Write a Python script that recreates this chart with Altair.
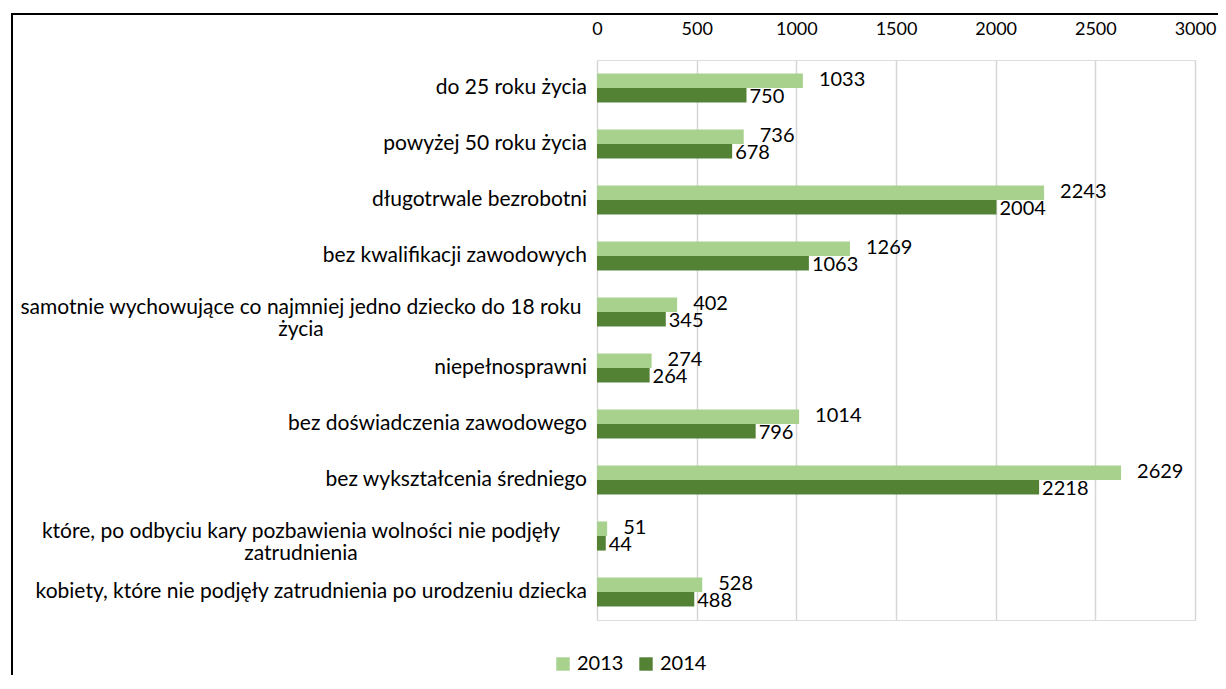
import altair as alt
import pandas as pd

categories = [
    "do 25 roku życia",
    "powyżej 50 roku życia",
    "długotrwale bezrobotni",
    "bez kwalifikacji zawodowych",
    "samotnie wychowujące co najmniej jedno dziecko do 18 roku|życia",
    "niepełnosprawni",
    "bez doświadczenia zawodowego",
    "bez wykształcenia średniego",
    "które, po odbyciu kary pozbawienia wolności nie podjęły|zatrudnienia",
    "kobiety, które nie podjęły zatrudnienia po urodzeniu dziecka",
]
values_2013 = [1033, 736, 2243, 1269, 402, 274, 1014, 2629, 51, 528]
values_2014 = [750, 678, 2004, 1063, 345, 264, 796, 2218, 44, 488]
years = ["2013", "2014"]
x_ticks = [0, 500, 1000, 1500, 2000, 2500, 3000]

rows = []
for c, a, b in zip(categories, values_2013, values_2014):
    rows.append({"cat": c, "year": "2013", "value": a})
    rows.append({"cat": c, "year": "2014", "value": b})
df = pd.DataFrame(rows)

cat_df = pd.DataFrame({"cat": categories,
                       "multi": ["|" in c for c in categories]})

FONT = "Lato"
W, H = 598, 560

yscale = alt.Scale(domain=categories, paddingInner=0.48, paddingOuter=0.24)
color = alt.Color("year:N", scale=alt.Scale(domain=years, range=["#A9D18E", "#548235"]),
                  legend=alt.Legend(title=None, orient="none", legendX=-44, legendY=594,
                                    direction="horizontal", symbolType="square",
                                    symbolSize=180, symbolStrokeWidth=0,
                                    labelFontSize=20, labelFont=FONT, labelColor="#000",
                                    columnPadding=12, labelOffset=4))

base = alt.Chart(df)

bars = base.mark_bar().encode(
    y=alt.Y("cat:N", scale=yscale, sort=categories, axis=None),
    yOffset=alt.YOffset("year:N", sort=years, scale=alt.Scale(paddingInner=0, paddingOuter=0)),
    x=alt.X("value:Q", scale=alt.Scale(domain=[0, 3000]),
            axis=alt.Axis(orient="top", values=x_ticks, format="d", title=None, domain=False,
                          ticks=False, labelFlush=False, labelFontSize=18, labelFont=FONT,
                          labelColor="#000", labelPadding=22, gridColor="#D6D6D6",
                          gridWidth=1.5)),
    color=color,
)

lab13 = base.transform_filter(alt.datum.year == "2013").mark_text(
    align="left", baseline="middle", dx=16, dy=-1, fontSize=20, font=FONT, color="#000"
).encode(
    y=alt.Y("cat:N", scale=yscale, sort=categories),
    yOffset=alt.YOffset("year:N", sort=years),
    x="value:Q",
    text="value:Q",
)
lab14 = base.transform_filter(alt.datum.year == "2014").mark_text(
    align="left", baseline="middle", dx=3, dy=2, fontSize=20, font=FONT, color="#000"
).encode(
    y=alt.Y("cat:N", scale=yscale, sort=categories),
    yOffset=alt.YOffset("year:N", sort=years),
    x="value:Q",
    text="value:Q",
)

cat_single = alt.Chart(cat_df).transform_filter(~alt.datum.multi).mark_text(
    align="right", baseline="middle", fontSize=21, font=FONT, color="#000"
).encode(
    y=alt.Y("cat:N", scale=yscale, sort=categories),
    x=alt.value(-10),
    text="cat:N",
)
cat_multi = alt.Chart(cat_df).transform_filter(alt.datum.multi).transform_calculate(
    lines="split(datum.cat, '|')"
).mark_text(
    align="center", baseline="middle", fontSize=21, font=FONT, color="#000",
    lineHeight=22, dy=-4
).encode(
    y=alt.Y("cat:N", scale=yscale, sort=categories),
    x=alt.value(-296),
    text="lines:N",
)

frame = alt.Chart(cat_df).mark_rect(fill=None, stroke="#000", strokeWidth=1.5).encode(
    x=alt.value(-585), x2=alt.value(660), y=alt.value(-46), y2=alt.value(660))

chart = alt.layer(bars, lab13, lab14, cat_single, cat_multi, frame).properties(
    width=W, height=H,
    autosize=alt.AutoSizeParams(type="none"),
    padding={"left": 589, "top": 52, "right": 23, "bottom": 55},
).configure_view(fill="#EDEDED", stroke=None).configure(background="white")

chart.save("out.html", embed_options={"renderer": "svg", "actions": False})
